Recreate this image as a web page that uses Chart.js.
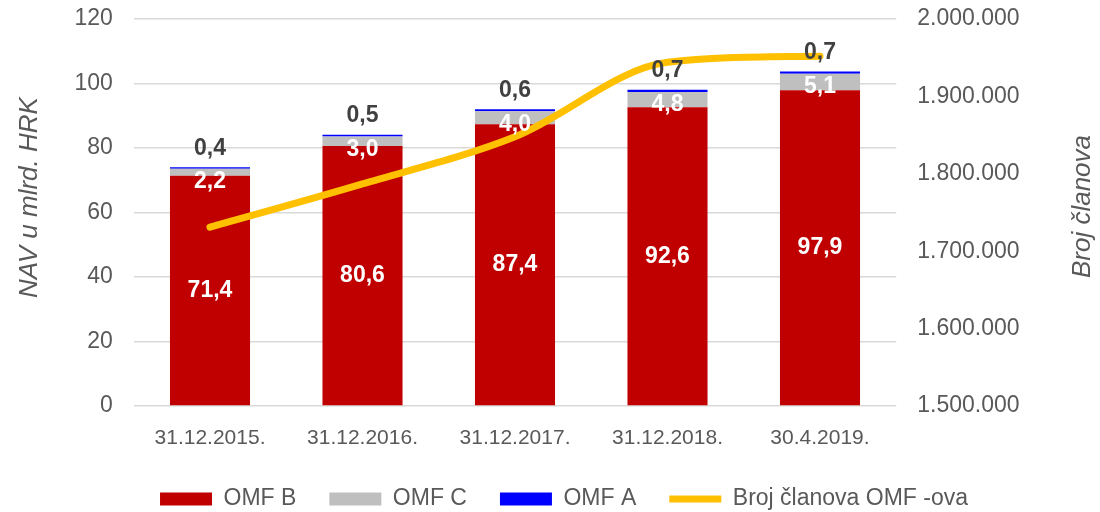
<!DOCTYPE html>
<html>
<head>
<meta charset="utf-8">
<script src="https://cdn.jsdelivr.net/npm/chart.js@4.4.1/dist/chart.umd.min.js"></script>
<style>
    html, body { margin: 0; padding: 0; background: #fff; }
</style>
</head>
<body>
<canvas id="chart" width="1100" height="512"></canvas>
<script>
// Podaci s grafikona
const DATUMI = ['31.12.2015.', '31.12.2016.', '31.12.2017.', '31.12.2018.', '30.4.2019.'];
const OMF_B = [71.4, 80.6, 87.4, 92.6, 97.9];
const OMF_C = [2.2, 3.0, 4.0, 4.8, 5.1];
const OMF_A = [0.4, 0.5, 0.6, 0.7, 0.7];
const BROJ_CLANOVA = [1731000, 1787000, 1848000, 1944000, 1952000];

const NAV_TICKS = [0, 20, 40, 60, 80, 100, 120];
const CLANOVI_TICKS = [1500000, 1600000, 1700000, 1800000, 1900000, 2000000];

const FONT = '"Liberation Sans", Arial, sans-serif';
const GREY = '#595959';

const fmtDec = (v) => v.toFixed(1).replace('.', ',');
const fmtThousands = (v) => String(v).replace(/\B(?=(\d{3})+(?!\d))/g, '.');

/**
 * Oznake vrijednosti na stupcima i naslovi osi.
 */
const labelsPlugin = {
    id: 'omfLabels',
    afterDatasetsDraw(chart) {
        const ctx = chart.ctx;
        const area = chart.chartArea;
        ctx.save();
        ctx.textAlign = 'center';
        ctx.textBaseline = 'middle';
        ctx.font = 'bold 23px ' + FONT;

        ctx.fillStyle = '#ffffff';
        chart.getDatasetMeta(0).data.forEach((bar, i) => {
            ctx.fillText(fmtDec(OMF_B[i]), bar.x, (bar.y + bar.base) / 2);
        });
        chart.getDatasetMeta(1).data.forEach((bar, i) => {
            const y = Math.max((bar.y + bar.base) / 2, bar.y + 13);
            ctx.fillText(fmtDec(OMF_C[i]), bar.x, y);
        });

        ctx.fillStyle = '#404040';
        chart.getDatasetMeta(2).data.forEach((bar, i) => {
            ctx.fillText(fmtDec(OMF_A[i]), bar.x, bar.y - 19);
        });

        // naslovi osi
        ctx.font = 'italic 26px ' + FONT;
        ctx.fillStyle = GREY;
        const midY = (area.top + area.bottom) / 2;

        ctx.save();
        ctx.translate(area.left - 104, midY - 15);
        ctx.rotate(-Math.PI / 2);
        ctx.fillText('NAV u mlrd. HRK', 0, 0);
        ctx.restore();

        ctx.save();
        ctx.translate(area.right + 187, midY - 6);
        ctx.rotate(-Math.PI / 2);
        ctx.fillText('Broj članova', 0, 0);
        ctx.restore();

        ctx.restore();
    }
};

/**
 * Fiksna širina okomite osi, bez dodatnog razmaka iznad i ispod.
 */
const fixAxis = (width) => (scale) => {
    scale.width = width;
    scale.paddingTop = 0;
    scale.paddingBottom = 0;
};

const ctx = document.getElementById('chart').getContext('2d');

new Chart(ctx, {
    type: 'bar',
    data: {
        labels: DATUMI,
        datasets: [
            {
                label: 'OMF B',
                data: OMF_B,
                backgroundColor: '#C00000',
                yAxisID: 'y',
                order: 1,
                pointStyle: 'rect',
                barPercentage: 0.525,
                categoryPercentage: 1
            },
            {
                label: 'OMF C',
                data: OMF_C,
                backgroundColor: '#BFBFBF',
                yAxisID: 'y',
                order: 1,
                pointStyle: 'rect',
                barPercentage: 0.525,
                categoryPercentage: 1
            },
            {
                label: 'OMF A',
                data: OMF_A,
                backgroundColor: '#0000FF',
                yAxisID: 'y',
                order: 1,
                pointStyle: 'rect',
                barPercentage: 0.525,
                categoryPercentage: 1
            },
            {
                type: 'line',
                label: 'Broj članova OMF -ova',
                data: BROJ_CLANOVA,
                borderColor: '#FFC000',
                backgroundColor: '#FFC000',
                borderWidth: 7,
                borderCapStyle: 'round',
                cubicInterpolationMode: 'monotone',
                pointRadius: 0,
                pointStyle: 'line',
                yAxisID: 'y1',
                order: 0
            }
        ]
    },
    options: {
        responsive: false,
        animation: false,
        devicePixelRatio: 1,
        layout: {
            // legenda ima velik razmak (padding), pa je donji rub namjerno negativan
            padding: { top: 19, left: 28, right: 0, bottom: -8.5 }
        },
        plugins: {
            tooltip: { enabled: false },
            legend: {
                position: 'bottom',
                labels: {
                    usePointStyle: true,
                    pointStyleWidth: 52,
                    boxHeight: 13,
                    padding: 33,
                    color: GREY,
                    font: { family: FONT, size: 23 },
                    sort: (a, b) => a.datasetIndex - b.datasetIndex
                }
            }
        },
        scales: {
            x: {
                stacked: true,
                grid: { display: false },
                border: { display: false },
                ticks: {
                    color: GREY,
                    font: { family: FONT, size: 21 },
                    padding: 12,
                    maxRotation: 0
                },
                afterFit: (scale) => { scale.height = 48.5; }
            },
            y: {
                stacked: true,
                position: 'left',
                min: NAV_TICKS[0],
                max: NAV_TICKS[NAV_TICKS.length - 1],
                border: { display: false },
                grid: { color: '#D9D9D9', lineWidth: 1.5, drawTicks: false },
                ticks: {
                    stepSize: NAV_TICKS[1] - NAV_TICKS[0],
                    color: GREY,
                    font: { family: FONT, size: 23 },
                    padding: 21
                },
                afterFit: fixAxis(105.75)
            },
            y1: {
                position: 'right',
                min: CLANOVI_TICKS[0],
                max: CLANOVI_TICKS[CLANOVI_TICKS.length - 1],
                border: { display: false },
                grid: { display: false, drawTicks: false },
                ticks: {
                    stepSize: CLANOVI_TICKS[1] - CLANOVI_TICKS[0],
                    color: GREY,
                    font: { family: FONT, size: 23 },
                    padding: 21,
                    callback: (v) => fmtThousands(v)
                },
                afterFit: fixAxis(203.75)
            }
        }
    },
    plugins: [labelsPlugin]
});
</script>
</body>
</html>
